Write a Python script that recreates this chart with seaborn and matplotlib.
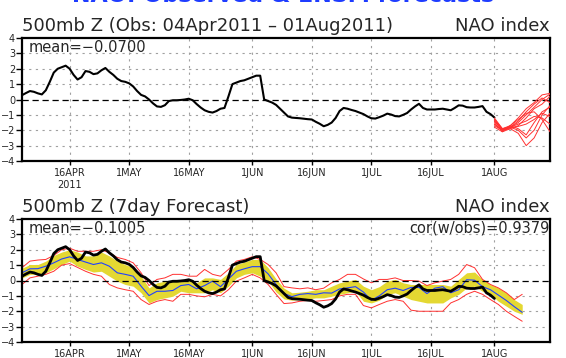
import numpy as np
import pandas as pd
import matplotlib
matplotlib.use("Agg")
import matplotlib.pyplot as plt
import seaborn as sns

# observed daily NAO index, 04Apr2011 .. 01Aug2011
obs_start = "2011-04-04"
obs_vals = [
    0.28, 0.42, 0.55, 0.5, 0.4, 0.33, 0.6, 1.15, 1.75, 2.0,
    2.1, 2.2, 2.0, 1.6, 1.3, 1.45, 1.85, 1.8, 1.65, 1.7,
    1.9, 2.05, 1.8, 1.6, 1.35, 1.2, 1.15, 1.05, 0.85, 0.55,
    0.3, 0.2, 0.0, -0.25, -0.45, -0.48, -0.37, -0.1, -0.05, -0.05,
    -0.03, 0.0, 0.05, -0.05, -0.3, -0.52, -0.7, -0.8, -0.85, -0.75,
    -0.6, -0.55, 0.2, 1.0, 1.1, 1.2, 1.25, 1.35, 1.45, 1.55,
    1.55, 0.0, -0.1, -0.2, -0.35, -0.6, -0.85, -1.1, -1.18, -1.2,
    -1.22, -1.25, -1.28, -1.3, -1.45, -1.58, -1.74, -1.65, -1.5, -1.2,
    -0.75, -0.55, -0.6, -0.68, -0.75, -0.85, -0.95, -1.1, -1.22, -1.24,
    -1.15, -1.05, -0.92, -0.98, -1.08, -1.1, -1.0, -0.88, -0.65, -0.45,
    -0.28, -0.55, -0.65, -0.65, -0.65, -0.62, -0.6, -0.65, -0.7, -0.55,
    -0.38, -0.4, -0.5, -0.52, -0.52, -0.48, -0.43, -0.8, -0.95, -1.17,
]

# ensemble forecasts from 01Aug2011, every 2 days
ens_start = "2011-08-01"
ens_members = [
    [-1.2, -1.9, -1.8, -1.5, -1.0, -0.5, 0.0, 0.35],
    [-1.4, -2.0, -1.9, -1.7, -1.2, -0.6, -0.3, 0.2],
    [-1.6, -2.0, -1.8, -1.4, -0.8, -0.3, 0.1, -0.2],
    [-1.3, -1.9, -1.7, -1.9, -2.3, -1.5, -0.8, -0.5],
    [-1.5, -2.1, -1.9, -2.2, -3.0, -2.5, -1.5, -0.9],
    [-1.7, -2.0, -1.8, -1.6, -1.4, -1.1, -1.2, -1.6],
    [-1.8, -2.1, -1.7, -1.3, -0.9, -0.8, -1.3, -2.1],
    [-1.4, -1.9, -1.8, -2.0, -2.5, -2.0, -1.0, -0.4],
    [-1.6, -2.0, -1.7, -1.2, -0.6, -0.2, 0.3, 0.4],
    [-1.3, -1.95, -1.85, -1.75, -1.6, -1.3, -0.9, -1.1],
]

# 7-day forecast verification, every 2 days from 04Apr2011
fc_mean = [
    0.5, 0.76, 0.77, 0.93, 1.15, 1.4, 1.54, 1.37, 1.2, 1.04,
    1.15, 0.93, 0.5, 0.4, 0.28, -0.37, -0.98, -0.7, -0.7, -0.65,
    -0.33, -0.26, -0.54, -0.33, -0.04, -0.4, 0.1, 0.6, 0.76, 0.9,
    0.9, 0.43, -0.26, -0.85, -1.05, -0.9, -0.85, -0.9, -0.8, -0.82,
    -0.55, -0.48, -0.4, -0.75, -1.28, -1.0, -0.6, -0.5, -0.65, -0.45,
    -0.45, -0.85, -0.5, -0.4, -0.8, -0.6, 0.05, 0.02, -0.4, -0.6,
    -0.95, -1.3, -1.7, -2.07,
]
fc_hi = [
    0.8, 1.04, 1.04, 1.26, 1.63, 1.85, 2.0, 1.85, 1.6, 1.6,
    1.85, 1.6, 1.26, 1.04, 0.83, 0.28, -0.48, -0.15, -0.04, -0.04,
    0.07, 0.07, -0.15, 0.17, 0.17, 0.07, 0.5, 1.04, 1.2, 1.37,
    1.37, 0.83, 0.1, -0.5, -0.8, -0.76, -0.7, -0.6, -0.6, -0.37,
    -0.15, -0.04, 0.07, -0.37, -0.6, -0.4, -0.04, 0.07, -0.15, -0.26,
    -0.26, -0.26, -0.26, -0.26, -0.37, 0.07, 0.5, 0.55, 0.07, -0.26,
    -0.48, -0.8, -1.24, -1.56,
]
fc_lo = [
    0.17, 0.4, 0.4, 0.5, 0.76, 1.04, 1.26, 0.93, 0.72, 0.55,
    0.6, 0.28, -0.04, -0.26, -0.37, -0.8, -1.46, -1.24, -1.13, -1.02,
    -0.7, -0.8, -0.8, -0.8, -0.6, -0.8, -0.37, 0.17, 0.4, 0.5,
    0.28, -0.04, -0.75, -1.2, -1.28, -1.24, -1.2, -1.13, -1.13, -1.02,
    -0.9, -0.8, -0.7, -1.35, -1.46, -1.28, -0.9, -0.8, -1.02, -1.24,
    -1.35, -1.46, -1.46, -1.46, -1.13, -0.9, -0.48, -0.37, -0.7, -0.9,
    -1.35, -1.67, -2.0, -2.2,
]
fc_max = [
    0.83, 1.26, 1.33, 1.37, 1.63, 2.0, 2.1, 1.9, 1.9, 1.9,
    2.0, 1.8, 1.5, 1.37, 1.15, 0.5, -0.33, 0.07, 0.17, 0.4,
    0.4, 0.28, 0.28, 0.72, 0.4, 0.28, 0.72, 1.26, 1.37, 1.54,
    1.37, 1.04, 0.5, -0.4, -0.48, -0.54, -0.48, -0.6, -0.5, -0.15,
    0.07, 0.4, 0.4, 0.1, -0.15, 0.07, 0.07, 0.17, 0.0, 0.0,
    -0.04, -0.33, -0.15, -0.04, 0.07, 0.4, 1.04, 0.83, 0.07, -0.26,
    -0.48, -0.8, -1.24, -0.9,
]
fc_min = [
    -0.26, 0.17, 0.28, 0.4, 0.6, 1.0, 1.1, 0.85, 0.6, 0.4,
    0.28, -0.26, -0.48, -0.6, -0.7, -1.24, -1.56, -1.35, -1.24, -1.35,
    -0.9, -0.9, -1.0, -1.06, -0.9, -1.0, -0.6, -0.04, 0.17, 0.4,
    0.17, -0.26, -0.9, -1.5, -1.46, -1.35, -1.3, -1.35, -1.3, -1.24,
    -1.0, -0.9, -0.9, -1.63, -1.78, -1.56, -1.35, -1.24, -1.35, -1.93,
    -2.0, -2.0, -2.0, -2.0, -1.46, -1.24, -0.9, -0.7, -0.9, -1.24,
    -1.56, -2.0, -2.33, -2.65,
]

tick_dates = ["2011-04-16", "2011-05-01", "2011-05-16", "2011-06-01",
              "2011-06-16", "2011-07-01", "2011-07-16", "2011-08-01"]
tick_labels = ["16APR", "1MAY", "16MAY", "1JUN", "16JUN", "1JUL", "16JUL", "1AUG"]

obs_mean_txt = "mean=\u22120.0700"
fc_mean_txt = "mean=\u22120.1005"
cor_txt = "cor(w/obs)=0.9379"

# ---- tables for seaborn
obs = pd.DataFrame({"date": pd.date_range(obs_start, periods=len(obs_vals), freq="D"),
                    "nao": obs_vals})
ens_dates = pd.date_range(ens_start, periods=len(ens_members[0]), freq="2D")
ens = pd.concat([pd.DataFrame({"date": ens_dates, "nao": m, "member": i})
                 for i, m in enumerate(ens_members)], ignore_index=True)
fc = pd.DataFrame({"date": pd.date_range(obs_start, periods=len(fc_mean), freq="2D"),
                   "mean": fc_mean, "hi": fc_hi, "lo": fc_lo,
                   "max": fc_max, "min": fc_min})

sns.set_style("white")
plt.rcParams["font.family"] = ["DejaVu Sans"]

RED = "#ff3030"
YELLOW = "#e4d832"
BLUE = "#2040ff"

fig = plt.figure(figsize=(5.66, 3.58), dpi=100)
ax1 = fig.add_axes([22 / 566, (358 - 161) / 358, 528 / 566, 123 / 358])
ax2 = fig.add_axes([22 / 566, 16 / 358, 528 / 566, 123 / 358])

xmin, xmax = pd.Timestamp("2011-04-04"), pd.Timestamp("2011-08-15")


def style_axes(ax, labels):
    ax.set_xlim(xmin, xmax)
    ax.set_ylim(-4, 4)
    ax.set_yticks(range(-4, 5))
    ax.set_yticklabels([str(v).replace("-", "\u2212") for v in range(-4, 5)])
    ax.set_xticks(pd.to_datetime(tick_dates))
    ax.set_xticklabels(labels)
    ax.tick_params(axis="both", labelsize=7, width=1, color="black",
                   direction="out", bottom=True, left=True)
    ax.tick_params(axis="y", pad=1, length=4)
    ax.tick_params(axis="x", pad=2, length=3)
    for sp in ax.spines.values():
        sp.set_linewidth(1.6)
        sp.set_color("black")
    for v in range(-3, 4):
        if v != 0:
            ax.axhline(v, color="#a0a0a0", lw=0.8, ls=(0, (2, 4)), zorder=0)
    for d in pd.to_datetime(tick_dates):
        ax.axvline(d, color="#a0a0a0", lw=0.8, ls=(0, (2, 4)), zorder=0)
    ax.axhline(0, color="black", lw=0.9, ls=(0, (5, 3)), zorder=3)
    ax.set_xlabel("")
    ax.set_ylabel("")


# top panel: observations + ensemble
sns.lineplot(data=obs, x="date", y="nao", color="black", lw=1.5, ax=ax1, zorder=4)
sns.lineplot(data=ens, x="date", y="nao", units="member", estimator=None,
             color=RED, lw=0.7, ax=ax1, zorder=4)
style_axes(ax1, [tick_labels[0] + "\n2011"] + tick_labels[1:])
ax1.text(0.012, 0.985, obs_mean_txt, transform=ax1.transAxes, ha="left", va="top", fontsize=10.5)
ax1.set_title("500mb Z (Obs: 04Apr2011 \u2013 01Aug2011)", loc="left", fontsize=13, pad=5)
ax1.set_title("NAO index", loc="right", fontsize=13, pad=5)

# bottom panel: 7-day forecast
ax2.fill_between(fc["date"], fc["lo"], fc["hi"], color=YELLOW, lw=0, zorder=1)
sns.lineplot(data=fc, x="date", y="max", color=RED, lw=0.7, ax=ax2, zorder=2)
sns.lineplot(data=fc, x="date", y="min", color=RED, lw=0.7, ax=ax2, zorder=2)
sns.lineplot(data=fc, x="date", y="mean", color=BLUE, lw=0.8, ax=ax2, zorder=2)
sns.lineplot(data=obs, x="date", y="nao", color="black", lw=2.0, ax=ax2, zorder=4)
style_axes(ax2, tick_labels)
ax2.text(0.012, 0.985, fc_mean_txt, transform=ax2.transAxes, ha="left", va="top", fontsize=10.5)
ax2.text(1.0, 0.985, cor_txt, transform=ax2.transAxes, ha="right", va="top", fontsize=10.5)
ax2.set_title("500mb Z (7day Forecast)", loc="left", fontsize=13, pad=5)
ax2.set_title("NAO index", loc="right", fontsize=13, pad=5)

# page title, mostly above the top edge as in the source image
fig.text(0.5, 1 - 2 / 358, "NAO: Observed & ENSM forecasts", ha="center", va="baseline",
         fontsize=16, fontweight="bold", color="#1e3cff")

fig.savefig("out.png", dpi=100, facecolor="white")
